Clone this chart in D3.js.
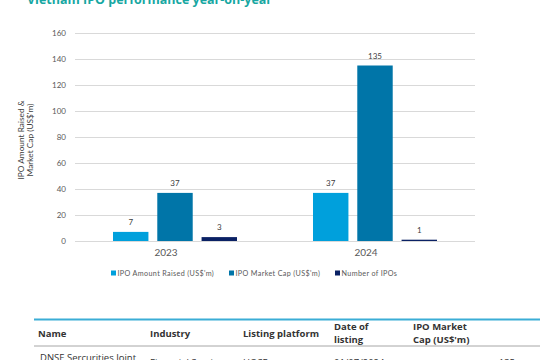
<!DOCTYPE html>
<html>
<head>
<meta charset="utf-8">
<script src="https://cdn.jsdelivr.net/npm/d3@7"></script>
<style>
  html, body { margin: 0; padding: 0; background: #fff; }
  svg { display: block; }
</style>
</head>
<body>
<svg id="chart" width="540" height="360"></svg>
<script>
const categories = ["2023", "2024"];
const seriesNames = ["IPO Amount Raised (US$'m)", "IPO Market Cap (US$'m)", "Number of IPOs"];
const amountRaised = [7, 37];
const marketCap = [37, 135];
const numberOfIPOs = [3, 1];
const yTicks = [0, 20, 40, 60, 80, 100, 120, 140, 160];
const tableHeaders = [["Name"], ["Industry"], ["Listing platform"], ["Date of", "listing"], ["IPO Market", "Cap (US$'m)"]];
const tableRow = ["DNSE Sercurities Joint", "Financial Services", "HOSE", "01/07/2024", "135"];

const colors = ["#00a0dc", "#0075a8", "#0a2164"];
const seriesValues = [amountRaised, marketCap, numberOfIPOs];

const svg = d3.select("#chart");
const chartFont = "Lato, 'Open Sans', sans-serif";

// Title (cut at top)
svg.append("text")
  .attr("x", 27).attr("y", 4)
  .attr("font-family", "'Open Sans', sans-serif")
  .attr("font-weight", 700)
  .attr("font-size", 12.5)
  .attr("fill", "#17a7a2")
  .text("Vietnam IPO performance year-on-year");

const x0 = d3.scaleBand().domain(categories).range([75, 475]);
const x1 = d3.scaleBand().domain(seriesNames).range([38, 162]).paddingInner(0.2);
const y = d3.scaleLinear().domain([0, 160]).range([241, 33]);

// Gridlines & y labels
const yAxis = d3.axisLeft(y).tickValues(yTicks).tickSize(-400).tickPadding(9);
const gy = svg.append("g").attr("transform", "translate(75,0)").call(yAxis);
gy.select(".domain").remove();
gy.selectAll(".tick line").attr("stroke", "#d9d9d9").attr("stroke-width", 1.2);
gy.selectAll(".tick text").attr("font-family", chartFont).attr("font-size", 8).attr("fill", "#595959");

// Y axis title
const yt = svg.append("text")
  .attr("transform", "translate(25,140) rotate(-90)")
  .attr("text-anchor", "middle")
  .attr("font-family", chartFont)
  .attr("font-size", 8.3)
  .attr("fill", "#404040");
yt.append("tspan").attr("x", 0).attr("dy", -1.5).text("IPO Amount Raised &");
yt.append("tspan").attr("x", 0).attr("dy", 9.5).text("Market Cap (US$'m)");

// Bars
const data = [];
categories.forEach((c, i) => {
  seriesNames.forEach((s, j) => data.push({cat: c, series: s, value: seriesValues[j][i], color: colors[j]}));
});

svg.append("g").selectAll("rect").data(data).join("rect")
  .attr("x", d => x0(d.cat) + x1(d.series))
  .attr("y", d => y(d.value))
  .attr("width", x1.bandwidth())
  .attr("height", d => y(0) - y(d.value))
  .attr("fill", d => d.color);

svg.append("g").selectAll("text").data(data).join("text")
  .attr("x", d => x0(d.cat) + x1(d.series) + x1.bandwidth() / 2)
  .attr("y", d => y(d.value) - 7)
  .attr("text-anchor", "middle")
  .attr("font-family", chartFont)
  .attr("font-size", 8)
  .attr("fill", "#404040")
  .text(d => d.value);

// Category axis
const xAxis = d3.axisBottom(x0).tickSize(0).tickPadding(8);
const gx = svg.append("g").attr("transform", "translate(-9,241)").call(xAxis);
gx.select(".domain").remove();
gx.selectAll(".tick text").attr("font-family", chartFont).attr("font-size", 10).attr("fill", "#595959");

// Legend
const legendX = [111, 229, 335];
const lg = svg.append("g").selectAll("g").data(seriesNames).join("g")
  .attr("transform", (d, i) => `translate(${legendX[i]},270.5)`);
lg.append("rect").attr("width", 5).attr("height", 5).attr("fill", (d, i) => colors[i]);
lg.append("text").attr("x", 6.5).attr("y", 5)
  .attr("font-family", chartFont).attr("font-size", 7.2).attr("letter-spacing", 0.35).attr("fill", "#595959")
  .text(d => d);

// Table
svg.append("line").attr("x1", 34).attr("x2", 540).attr("y1", 319.5).attr("y2", 319.5)
  .attr("stroke", "#3badd6").attr("stroke-width", 2);
svg.append("line").attr("x1", 34).attr("x2", 540).attr("y1", 346).attr("y2", 346)
  .attr("stroke", "#a6a6a6").attr("stroke-width", 1);

const colX = [38, 150, 243, 334, 413];
tableHeaders.forEach((lines, i) => {
  const t = svg.append("text")
    .attr("font-family", "'Open Sans', sans-serif")
    .attr("font-weight", 700)
    .attr("font-size", 9.5)
    .attr("fill", "#333333");
  if (lines.length === 1) {
    t.append("tspan").attr("x", colX[i]).attr("y", 337).text(lines[0]);
  } else {
    t.append("tspan").attr("x", colX[i]).attr("y", 330).text(lines[0]);
    t.append("tspan").attr("x", colX[i]).attr("y", 343).text(lines[1]);
  }
});

const rowX = [40, 150, 243, 334, 515];
tableRow.forEach((v, i) => {
  svg.append("text")
    .attr("x", rowX[i])
    .attr("y", i === 0 ? 361 : 366)
    .attr("text-anchor", i === 4 ? "end" : "start")
    .attr("font-family", "'Open Sans', sans-serif")
    .attr("font-size", 9.5)
    .attr("fill", "#333333")
    .text(v);
});
</script>
</body>
</html>
